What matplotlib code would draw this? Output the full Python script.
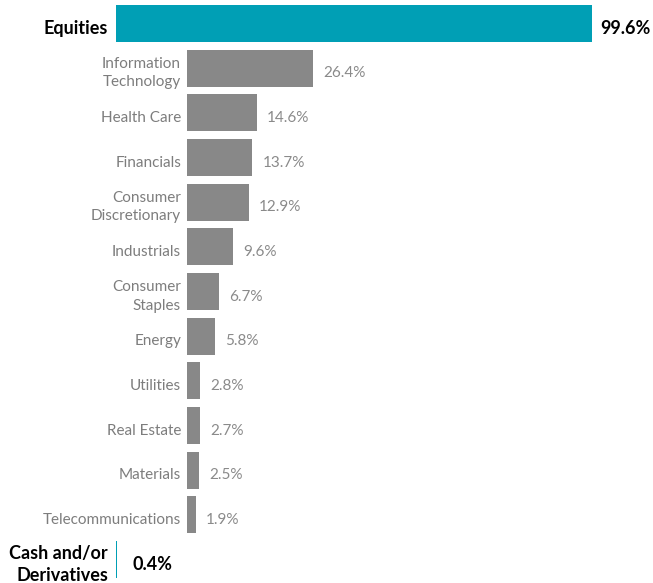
import matplotlib.pyplot as plt
import numpy as np

plt.rcParams["font.family"] = ["Lato", "DejaVu Sans"]

# values
TOTAL_LABEL = "Equities"
TOTAL_VALUE = 99.6
SECTORS = [
    "Information\nTechnology",
    "Health Care",
    "Financials",
    "Consumer\nDiscretionary",
    "Industrials",
    "Consumer\nStaples",
    "Energy",
    "Utilities",
    "Real Estate",
    "Materials",
    "Telecommunications",
]
SECTOR_VALUES = [26.4, 14.6, 13.7, 12.9, 9.6, 6.7, 5.8, 2.8, 2.7, 2.5, 1.9]
CASH_LABEL = "Cash and/or\nDerivatives"
CASH_VALUE = 0.4

TEAL = "#009fb5"
GRAY = "#888888"
LABEL_GRAY = "#7d7d7d"
VALUE_GRAY = "#8a8a8a"

PX = 4.78            # pixels per percentage point
W, H = 653, 583
LEFT = 116           # pixel where the main bars start
SECTOR_START = 71 / PX
ROW_PX = 44.67
TOP_PX = 23.5
BAR_H = 37 / ROW_PX
DROP = 5 / ROW_PX    # text sits a little below the bar centre

fig = plt.figure(figsize=(W / 100, H / 100), dpi=100)
ax = fig.add_axes([0, 0, 1, 1])
ax.set_xlim(-LEFT / PX, (W - LEFT) / PX)
ax.set_ylim((H - TOP_PX) / ROW_PX, -TOP_PX / ROW_PX)
ax.axis("off")

n = len(SECTORS)
rows = np.arange(n + 2)

# total equities
ax.barh(rows[0], TOTAL_VALUE, height=BAR_H, left=0, color=TEAL)
ax.text(-8 / PX, rows[0] + DROP, TOTAL_LABEL, ha="right", va="center",
        fontsize=13, fontweight="bold", color="black")
ax.text(TOTAL_VALUE + 8 / PX, rows[0] + DROP, f"{TOTAL_VALUE:.1f}%", ha="left", va="center",
        fontsize=13, fontweight="bold", color="black")

# sectors
sector_rows = rows[1:n + 1]
ax.barh(sector_rows, SECTOR_VALUES, height=BAR_H, left=SECTOR_START, color=GRAY)
for y, label, value in zip(sector_rows, SECTORS, SECTOR_VALUES):
    ax.text(SECTOR_START - 6 / PX, y + DROP, label, ha="right", va="center",
            fontsize=11, color=LABEL_GRAY, linespacing=1.4)
    ax.text(SECTOR_START + value + 10 / PX, y + DROP, f"{value:.1f}%", ha="left", va="center",
            fontsize=11, color=VALUE_GRAY)

# cash
ax.barh(rows[-1], CASH_VALUE, height=BAR_H, left=-0.1, color=TEAL)
ax.text(-8 / PX, rows[-1] + DROP, CASH_LABEL, ha="right", va="center",
        fontsize=13, fontweight="bold", color="black", linespacing=1.4)
ax.text(CASH_VALUE + 15 / PX, rows[-1] + DROP, f"{CASH_VALUE:.1f}%", ha="left", va="center",
        fontsize=13, fontweight="bold", color="black")

fig.savefig("out.png", dpi=100)
